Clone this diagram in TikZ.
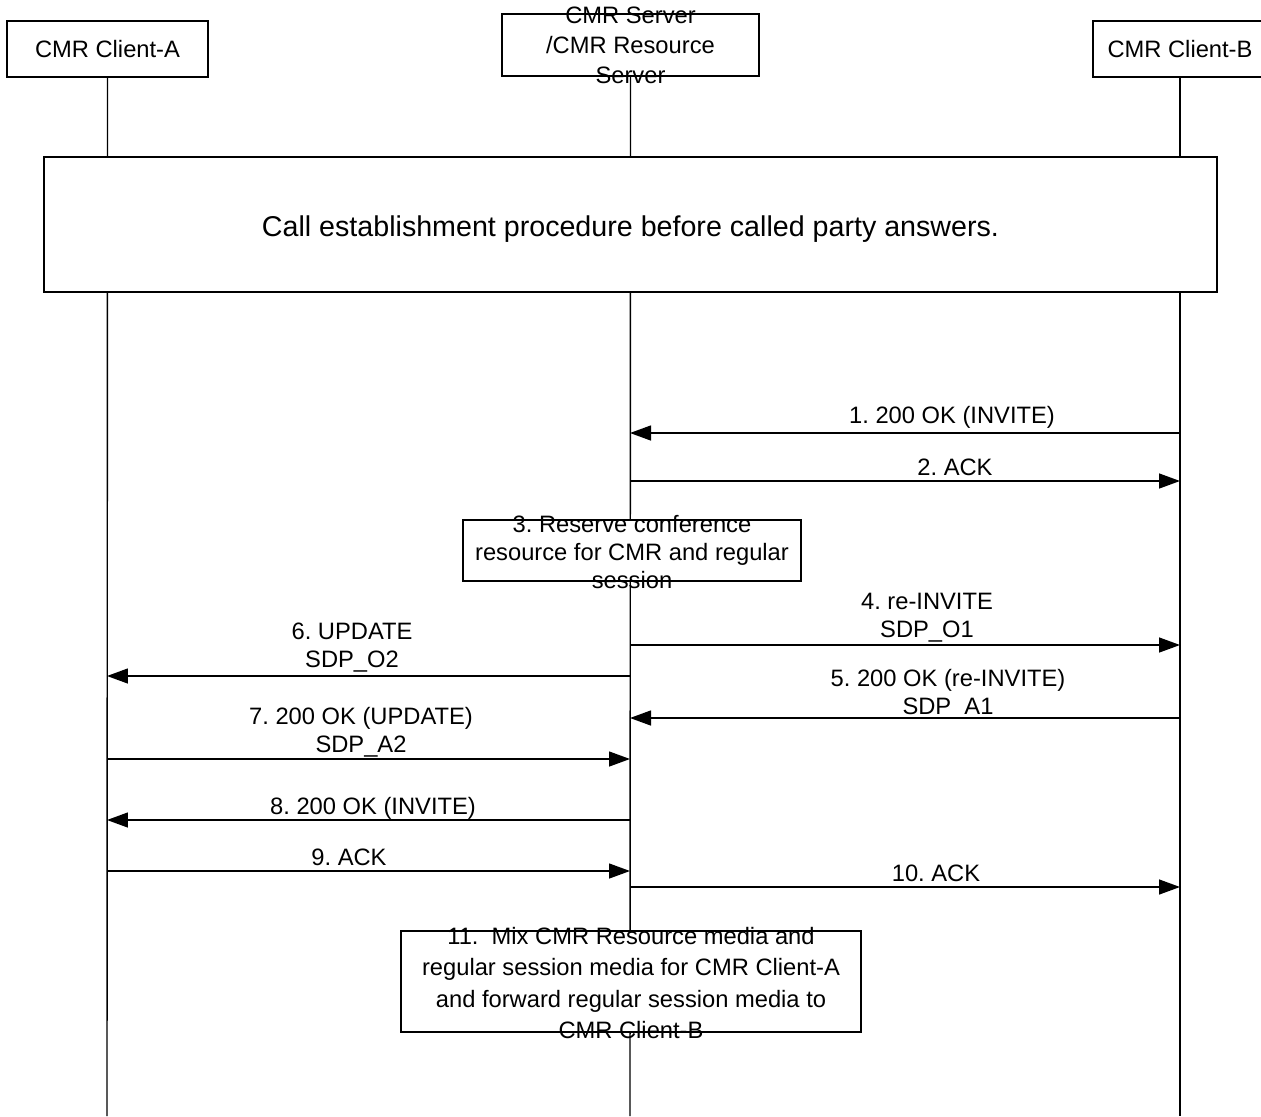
\documentclass[tikz,border=0pt]{standalone}
\usepackage{fontspec}
\setmainfont{Liberation Sans}
\usetikzlibrary{arrows.meta}
\frenchspacing
\tikzset{
    actor/.style={draw,line width=0.8pt,fill=white,minimum height=1.12cm,inner sep=0pt,font=\fontsize{13.5}{16}\selectfont},
    lifeline/.style={line width=0.8pt},
    msg/.style={line width=0.8pt,-{Triangle[length=0.42cm,width=0.3cm]}},
    msgtext/.style={inner sep=0pt,align=center,font=\fontsize{13.5}{16}\selectfont},
    stepbox/.style={draw,line width=0.8pt,fill=white,inner sep=0pt},
    steptext/.style={inner sep=0pt,align=center,font=\fontsize{13.5}{17}\selectfont}
}

\begin{document}
\begin{tikzpicture}[x=0.02cm,y=-0.02cm]
            \useasboundingbox (0,0) rectangle (1261,1116);
            \node [actor,minimum width=4.02cm] (cliA) at (107.5,49) {CMR Client-A};
            \node [actor,minimum width=5.14cm,minimum height=1.24cm] (srv) at (630.5,45) {};
            \node [steptext] (srvText) at (srv.center) {CMR Server\\/CMR Resource\\Server};
            \node [actor,minimum width=3.48cm] (cliB) at (1180,49) {CMR Client-B};
            \coordinate (endA) at (107,1116);
            \coordinate (endS) at (630,1116);
            \coordinate (endB) at (1180,1116);
            \draw [lifeline] (cliA.south) -- (endA);
            \draw [lifeline] (srv.south) -- (endS);
            \draw [lifeline] (cliB.south) -- (endB);
            \node [stepbox,minimum width=23.46cm,minimum height=2.7cm] (setup) at (630.5,224.5) {};
            \node [inner sep=0pt,font=\fontsize{16.3}{19}\selectfont] (setupText) at (630.5,229)
                {Call establishment procedure before called party answers.};
            \foreach \n/\y/\xa/\xb in {1/433/1180/630,2/481/630/1180,4/645/630/1180,
                6/676/630/107,5/718/1180/630,7/759/107/630,8/820/630/107,
                9/871/107/630,10/887/630/1180} {
                \coordinate (m\n a) at (\xa,\y);
                \coordinate (m\n b) at (\xb,\y);
                \draw [msg] (m\n a) -- (m\n b);
            }
            \node [msgtext] (l1) at (952,417) {1. 200 OK (INVITE)};
            \node [msgtext] (l2) at (955,467) {2. ACK};
            \node [msgtext] (l4) at (927,618) {4. re-INVITE\\SDP\_O1};
            \node [msgtext] (l6) at (352,648) {6. UPDATE\\SDP\_O2};
            \node [msgtext] (l5) at (948,694) {5. 200 OK (re-INVITE)\\SDP\_A1};
            \node [msgtext] (l7) at (361,732) {7. 200 OK (UPDATE)\\SDP\_A2};
            \node [msgtext] (l8) at (373,808) {8. 200 OK (INVITE)};
            \node [msgtext] (l9) at (349,857) {9. ACK};
            \node [msgtext] (l10) at (936,873) {10. ACK};
            \node [stepbox,minimum width=6.76cm,minimum height=1.22cm] (reserve) at (632,550.5) {};
            \node [steptext,font=\fontsize{13.5}{16}\selectfont] (reserveText) at (632,552)
                {3. Reserve conference\\resource for CMR and regular\\session};
            \node [stepbox,minimum width=9.2cm,minimum height=2.02cm] (mix) at (631,981.5) {};
            \node [steptext,font=\fontsize{13.5}{18}\selectfont] (mixText) at (631,983)
                {11.\ \ Mix CMR Resource media and\\regular session media for CMR Client-A\\and forward regular session media to\\CMR Client-B};
        \end{tikzpicture}
\end{document}
